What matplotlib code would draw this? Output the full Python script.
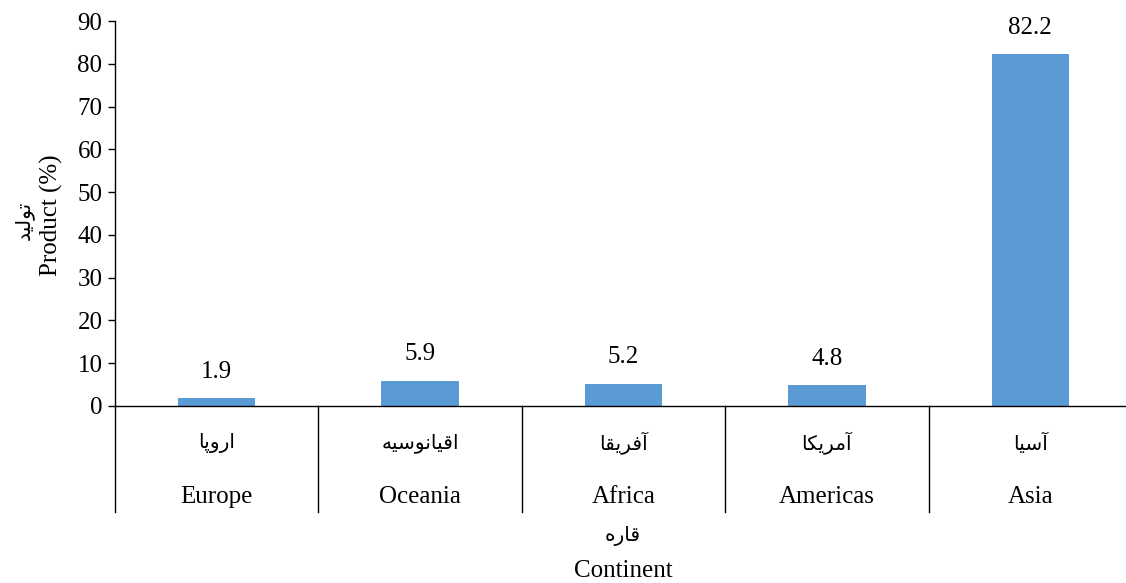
import matplotlib
matplotlib.use("Agg")
import matplotlib.pyplot as plt
import matplotlib.transforms as mtransforms

# data
continents_en = ["Europe", "Oceania", "Africa", "Americas", "Asia"]
continents_fa = ["اروپا", "اقیانوسیه", "آفریقا", "آمریکا", "آسیا"]
product_pct = [1.9, 5.9, 5.2, 4.8, 82.2]
yticks = [0, 10, 20, 30, 40, 50, 60, 70, 80, 90]
ylabel_en = "Product (%)"
ylabel_fa = "تولید"
xlabel_en = "Continent"
xlabel_fa = "قاره"

# matplotlib has no Arabic shaping, so pick presentation forms by hand
# (isolated, final, initial, medial)
FORMS = {
    "ا": ("\uFE8D", "\uFE8E", None, None),
    "آ": ("\uFE81", "\uFE82", None, None),
    "ر": ("\uFEAD", "\uFEAE", None, None),
    "و": ("\uFEED", "\uFEEE", None, None),
    "د": ("\uFEA9", "\uFEAA", None, None),
    "پ": ("\uFB56", "\uFB57", "\uFB58", "\uFB59"),
    "ق": ("\uFED5", "\uFED6", "\uFED7", "\uFED8"),
    "ی": ("\uFBFC", "\uFBFD", "\uFBFE", "\uFBFF"),
    "ن": ("\uFEE5", "\uFEE6", "\uFEE7", "\uFEE8"),
    "س": ("\uFEB1", "\uFEB2", "\uFEB3", "\uFEB4"),
    "ه": ("\uFEE9", "\uFEEA", "\uFEEB", "\uFEEC"),
    "ف": ("\uFED1", "\uFED2", "\uFED3", "\uFED4"),
    "م": ("\uFEE1", "\uFEE2", "\uFEE3", "\uFEE4"),
    "ک": ("\uFB8E", "\uFB8F", "\uFB90", "\uFB91"),
    "ت": ("\uFE95", "\uFE96", "\uFE97", "\uFE98"),
    "ل": ("\uFEDD", "\uFEDE", "\uFEDF", "\uFEE0"),
}


def fa(word):
    out = []
    for i, ch in enumerate(word):
        prev = i > 0 and FORMS[word[i - 1]][2] is not None
        nxt = i < len(word) - 1 and FORMS[ch][2] is not None
        iso, fin, ini, med = FORMS[ch]
        if prev and nxt:
            out.append(med)
        elif prev:
            out.append(fin)
        elif nxt:
            out.append(ini)
        else:
            out.append(iso)
    return "".join(out[::-1])


plt.rcParams["font.family"] = ["Liberation Serif", "DejaVu Sans"]
FA_FONT = "DejaVu Sans"
EN_SIZE = 18
FA_SIZE = 14.5

fig = plt.figure(figsize=(11.26, 5.83), dpi=100)
ax = fig.add_axes([115 / 1126, 1 - 406 / 583, 1017 / 1126, 385 / 583])

x = range(len(continents_en))
bars = ax.bar(x, product_pct, width=0.38, color="#5B9BD5")
for xi, v in zip(x, product_pct):
    ax.annotate(f"{v}", (xi, v), xytext=(0, 11), textcoords="offset points",
                ha="center", va="bottom", fontsize=EN_SIZE)

ax.set_xlim(-0.5, len(continents_en) - 0.5)
ax.set_ylim(0, 90)
ax.set_yticks(yticks)
ax.tick_params(axis="y", labelsize=EN_SIZE, length=5, width=1, direction="out", pad=4)
ax.set_xticks([])
for s in ["top", "right"]:
    ax.spines[s].set_visible(False)
ax.spines["left"].set_linewidth(1)
ax.spines["bottom"].set_linewidth(1)

# category separators under the axis
trans = mtransforms.blended_transform_factory(ax.transData, ax.transAxes)
drop = (512 - 406) / 385
for b in [i - 0.5 for i in range(len(continents_en) + 1)]:
    ax.plot([b, b], [0, -drop], color="black", lw=1, transform=trans, clip_on=False)

for xi, en, f in zip(x, continents_en, continents_fa):
    ax.text(xi, -(443 - 406) / 385, fa(f), transform=trans, ha="center", va="center",
            fontsize=FA_SIZE, family=FA_FONT)
    ax.text(xi, -(497 - 406) / 385, en, transform=trans, ha="center", va="center",
            fontsize=EN_SIZE)

# axis titles
fig.text(623 / 1126, 1 - 536 / 583, fa(xlabel_fa), ha="center", va="center",
         fontsize=FA_SIZE, family=FA_FONT)
fig.text(623 / 1126, 1 - 571 / 583, xlabel_en, ha="center", va="center", fontsize=EN_SIZE)
fig.text(51 / 1126, 1 - 215 / 583, ylabel_en, ha="center", va="center",
         rotation=90, fontsize=EN_SIZE)
fig.text(24 / 1126, 1 - 220 / 583, fa(ylabel_fa), ha="center", va="center",
         rotation=90, fontsize=FA_SIZE, family=FA_FONT)

fig.savefig("out.png", dpi=100)
